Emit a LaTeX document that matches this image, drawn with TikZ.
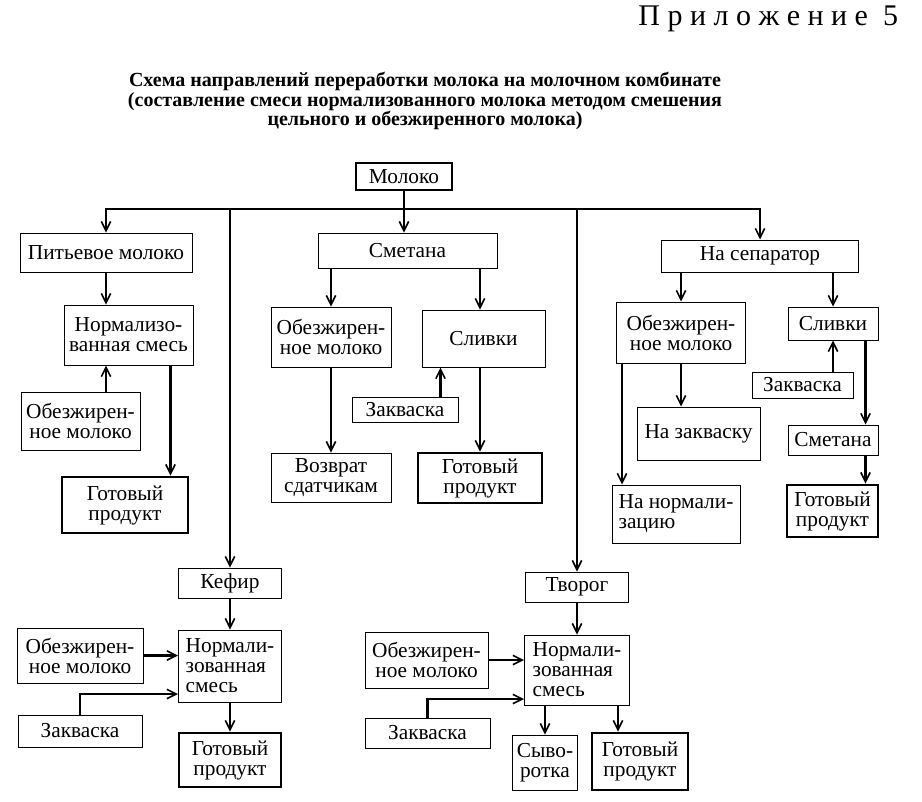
\documentclass[tikz,border=0pt]{standalone}
\usepackage{fontspec}
\setmainfont{Liberation Serif}
\usetikzlibrary{arrows.meta}

\tikzset{every picture/.style={line width=0.75pt}}
\tikzset{
  box/.style={draw, rectangle, align=center, inner sep=1pt, font=\fontsize{16}{15}\selectfont},
  sz/.style 2 args={minimum width=#1*0.75pt, minimum height=#2*0.75pt},
  ready/.style={box, line width=2.2pt},
  flow/.style={line width=1.8pt, -{Straight Barb[length=7pt,width=7pt,line width=1.2pt]}}
}

\begin{document}
\begin{tikzpicture}[x=0.75pt,y=0.75pt,yscale=-1,xscale=1]
\useasboundingbox (0,0) rectangle (922,801);

% Heading
\node[anchor=base east, font=\fontsize{22.5}{22}\selectfont] (app) at (903,25) {П р и л о ж е н и е \ 5};
\node[align=center, font=\bfseries\fontsize{15}{14.4}\selectfont] (title) at (425,101) {Схема направлений переработки молока на молочном комбинате\\(составление смеси нормализованного молока методом смешения\\цельного и обезжиренного молока)};

% Text Node
\node[box, line width=2.2pt, sz={96}{27}] (milk) at (404,176.5) {Молоко};
\coordinate (bus) at (404,209);

% Text Node
\node[box, sz={172}{39}] (drink) at (106,252.5) {Питьевое молоко};
\node[box, sz={129}{60}] (norm1) at (128.5,335) {Нормализо-\\ванная смесь};
\node[box, sz={119}{58}] (skim1) at (80.5,421) {Обезжирен-\\ное молоко};
\node[ready, sz={126}{56}] (ready1) at (125,505) {Готовый\\продукт};

% Text Node
\node[box, sz={179}{35}] (sm) at (407.5,250.5) {Сметана};
\node[box, sz={120}{60}] (skim2) at (331,337) {Обезжирен-\\ное молоко};
\node[box, sz={123}{57}] (cream2) at (483.5,338.5) {Сливки};
\node[box, sz={106}{25}] (st2) at (405,409.5) {Закваска};
\node[box, sz={120}{49}] (ret) at (331,477.5) {Возврат\\сдатчикам};
\node[ready, sz={124}{50}] (ready2) at (480,478) {Готовый\\продукт};

% Text Node
\node[box, sz={197}{32}] (sep) at (760,256) {На сепаратор};
\node[box, sz={129}{61}] (skim3) at (681,332.5) {Обезжирен-\\ное молоко};
\node[box, sz={90}{33}] (cream3) at (833,323.5) {Сливки};
\node[box, sz={101}{26}] (st3) at (802.5,385) {Закваска};
\node[box, sz={90}{30}] (sour3) at (833,440) {Сметана};
\node[ready, sz={91}{52}] (ready3) at (832.5,511) {Готовый\\продукт};
\node[box, sz={123}{53}] (tost) at (698.5,433.5) {На закваску};
\node[box, sz={128}{58}, align=left] (tonorm) at (676,514) {На нормали-\\зацию};

% Text Node
\node[box, sz={103}{30}] (kef) at (230,583) {Кефир};
\node[box, sz={103}{72}, align=left] (norm4) at (230,666) {Нормали-\\зованная\\смесь};
\node[box, sz={126}{55}] (skim4) at (80,655.5) {Обезжирен-\\ное молоко};
\node[box, sz={124}{32}] (st4) at (80,731) {Закваска};
\node[ready, sz={102}{54}] (ready4) at (230,760) {Готовый\\продукт};

% Text Node
\node[box, sz={103}{30}] (cot) at (577,587) {Творог};
\node[box, sz={105}{70}, align=left] (norm5) at (577,670) {Нормали-\\зованная\\смесь};
\node[box, sz={123}{56}] (skim5) at (426.5,660) {Обезжирен-\\ное молоко};
\node[box, sz={125}{30}] (st5) at (427.5,733) {Закваска};
\node[box, sz={65}{55}] (whey) at (545,762.5) {Сыво-\\ротка};
\node[ready, sz={96}{57}] (ready5) at (640,761.5) {Готовый\\продукт};

% Straight Lines
\draw[flow, line width=2.2pt] (bus) -| (drink);
\draw[flow, line width=2.2pt] (bus) -| (sep);
\draw[flow] (milk) -- (milk |- sm.north);
\draw[flow] (kef.north |- bus) -- (kef);
\draw[flow] (cot.north |- bus) -- (cot);

% left branch
\draw[flow] (drink) -- (drink |- norm1.north);
\draw[flow] (skim1.north -| drink) -- (norm1.south -| drink);
\coordinate (n1r) at ([xshift=-17.25pt]norm1.south east);
\draw[flow] (n1r) -- (n1r |- ready1.north);

% middle branch
\draw[flow] (sm.south -| skim2) -- (skim2);
\draw[flow] (sm.south -| ready2) -- (ready2 |- cream2.north);
\coordinate (st2up) at ([xshift=-13.5pt]st2.north east);
\draw[flow] (st2up) -- (st2up |- cream2.south);
\draw[flow] (skim2) -- (ret);
\draw[flow] (cream2.south -| ready2) -- (ready2);

% right branch
\draw[flow] (sep.south -| skim3) -- (skim3);
\draw[flow] (sep.south -| cream3) -- (cream3);
\draw[flow] (st3.north -| cream3) -- (cream3.south);
\coordinate (c3r) at ([xshift=-9.75pt]cream3.south east);
\draw[flow] (c3r) -- (c3r |- sour3.north);
\draw[flow] (c3r |- sour3.south) -- (c3r |- ready3.north);
\draw[flow] (skim3) -- (skim3 |- tost.north);
\coordinate (s3l) at ([xshift=4.5pt]skim3.south west);
\draw[flow] (s3l) -- (s3l |- tonorm.north);

% kefir
\draw[flow] (kef) -- (norm4);
\draw[flow] (skim4) -- (skim4 -| norm4.west);
\draw[flow] (st4) |- ([yshift=21pt]norm4.west);
\draw[flow] (norm4) -- (ready4);

% tvorog
\draw[flow] (cot) -- (norm5);
\draw[flow] (skim5) -- (skim5 -| norm5.west);
\draw[flow] (st5) |- ([yshift=21.75pt]norm5.west);
\draw[flow] (norm5.south -| whey) -- (whey);
\coordinate (n5r) at ([xshift=-9pt]norm5.south east);
\draw[flow] (n5r) -- (n5r |- ready5.north);

\end{tikzpicture}
\end{document}
